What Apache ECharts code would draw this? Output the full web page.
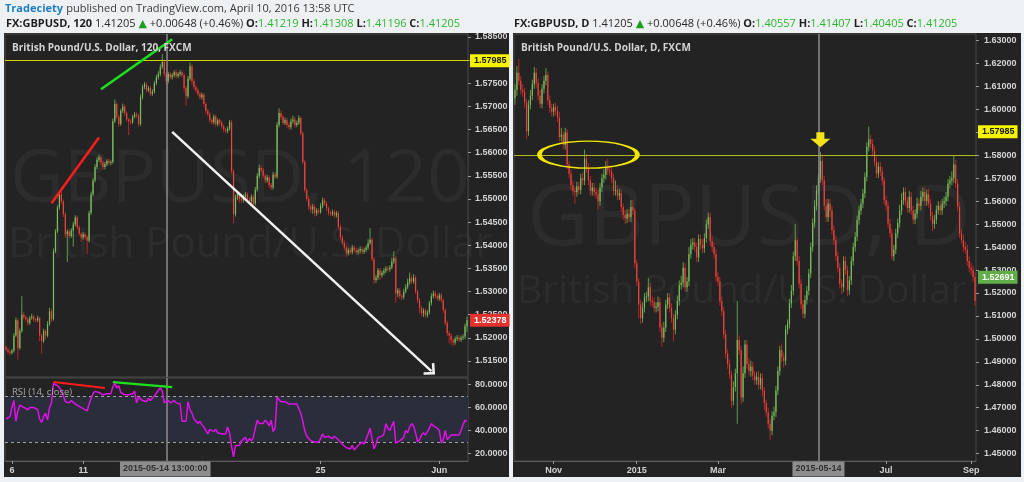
<!DOCTYPE html>
<html><head><meta charset="utf-8">
<script src="https://cdn.jsdelivr.net/npm/echarts@6.0.0/dist/echarts.min.js"></script>
<style>html,body{margin:0;padding:0;background:#eef1f4;}#c{width:1024px;height:482px;}</style>
</head><body><div id="c"></div>
<script>
// ---------------- DATA ----------------
const leftDays = ['2015-05-05','2015-05-06','2015-05-07','2015-05-08','2015-05-11','2015-05-12','2015-05-13','2015-05-14','2015-05-15','2015-05-18','2015-05-19','2015-05-20','2015-05-21','2015-05-22','2015-05-25','2015-05-26','2015-05-27','2015-05-28','2015-05-29','2015-06-01','2015-06-02'];
const leftTickDates = ['2015-05-06 01:00:00','2015-05-11 01:00:00','2015-05-18 01:00:00','2015-05-25 01:00:00','2015-06-01 01:00:00'];
const leftTickNames = ['6','11','18','25','Jun'];
const leftPriceTicks = [1.515,1.52,1.525,1.53,1.535,1.54,1.545,1.55,1.555,1.56,1.565,1.57,1.575,1.58,1.585];
const rsiTicks = [20,40,60,80];
const leftFirstOpen = 1.5180;
const leftCloses = [
1.5175,1.5170,1.5168,1.5172,1.5205,1.5238,1.5178,1.5215,1.5250,1.5245,
1.5240,1.5232,1.5243,1.5246,1.5240,1.5238,1.5243,1.5205,1.5193,1.5215,
1.5205,1.5230,1.5257,1.5240,1.5387,1.5430,1.5482,1.5510,1.5495,1.5467,
1.5424,1.5430,1.5420,1.5432,1.5445,1.5460,1.5439,1.5425,1.5417,1.5424,
1.5418,1.5410,1.5470,1.5510,1.5540,1.5569,1.5585,1.5590,1.5579,1.5569,
1.5575,1.5582,1.5578,1.5580,1.5668,1.5705,1.5677,1.5662,1.5690,1.5700,
1.5685,1.5672,1.5668,1.5666,1.5678,1.5683,1.5680,1.5662,1.5720,1.5742,
1.5748,1.5735,1.5740,1.5727,1.5732,1.5750,1.5763,1.5770,1.5785,1.5796,
1.5770,1.5755,1.5770,1.5763,1.5768,1.5774,1.5766,1.5770,1.5774,1.5768,
1.5740,1.5722,1.5760,1.5787,1.5755,1.5742,1.5735,1.5727,1.5720,1.5725,
1.5705,1.5690,1.5683,1.5670,1.5666,1.5678,1.5662,1.5670,1.5665,1.5657,
1.5650,1.5647,1.5652,1.5666,1.5560,1.5467,1.5504,1.5512,1.5500,1.5497,
1.5505,1.5510,1.5498,1.5495,1.5505,1.5490,1.5520,1.5550,1.5567,1.5562,
1.5550,1.5540,1.5547,1.5530,1.5525,1.5553,1.5548,1.5660,1.5686,1.5677,
1.5665,1.5670,1.5660,1.5655,1.5668,1.5672,1.5660,1.5665,1.5675,1.5642,
1.5580,1.5519,1.5500,1.5483,1.5478,1.5483,1.5470,1.5475,1.5472,1.5485,
1.5497,1.5490,1.5480,1.5470,1.5468,1.5472,1.5465,1.5470,1.5440,1.5417,
1.5405,1.5395,1.5383,1.5390,1.5385,1.5395,1.5390,1.5385,1.5388,1.5392,
1.5386,1.5390,1.5395,1.5405,1.5412,1.5370,1.5325,1.5330,1.5346,1.5335,
1.5340,1.5345,1.5350,1.5348,1.5352,1.5365,1.5372,1.5296,1.5303,1.5290,
1.5288,1.5300,1.5310,1.5320,1.5329,1.5322,1.5330,1.5300,1.5281,1.5265,
1.5253,1.5259,1.5249,1.5255,1.5275,1.5290,1.5296,1.5290,1.5285,1.5292,
1.5281,1.5260,1.5232,1.5210,1.5205,1.5195,1.5190,1.5198,1.5201,1.5196,
1.5200,1.5203,1.5225,1.5238];
// wick lengths in pips (0.0001)
const leftUpperWick = [
4,3,3,4,5,6,4,5,40,6, 4,5,4,6,4,3,5,3,4,5, 4,6,8,5,6,5,5,8,6,4, 5,4,4,5,6,5,4,4,3,5,
4,4,5,6,5,6,5,6,4,4, 5,4,5,4,6,10,4,4,5,6, 4,4,3,5,4,5,4,4,6,5, 5,4,4,4,5,5,5,6,6,17,
5,4,4,5,4,4,6,4,5,4, 4,4,6,8,4,5,4,4,4,5, 4,4,5,4,4,5,4,4,4,4, 4,4,5,5,4,5,6,5,4,5,
5,5,5,6,5,5,6,6,7,5, 5,5,5,4,5,6,5,6,10,5, 5,6,5,5,6,8,5,5,6,4, 4,4,5,6,5,6,5,5,5,6,
6,5,5,4,5,5,5,4,4,5, 5,6,5,5,5,6,5,5,5,6, 5,5,5,8,25,5,5,6,5,5, 5,6,5,5,5,8,15,5,5,5,
5,6,6,8,12,6,8,5,4,5, 4,5,5,5,5,6,6,5,5,5, 5,4,4,5,5,5,4,5,5,5, 5,5,6,8];
const leftLowerWick = [
4,5,6,4,4,3,25,4,4,5, 4,6,4,4,5,5,4,12,27,4, 8,4,4,6,3,4,4,5,5,6, 8,60,5,4,35,4,5,5,10,5,
5,30,4,4,4,4,5,5,6,5, 5,4,5,5,4,4,5,6,4,4, 5,5,30,5,4,4,5,6,4,5, 5,5,4,5,4,4,4,5,5,4,
6,8,5,5,5,5,6,5,5,5, 8,20,5,4,8,5,5,5,5,5, 6,6,5,5,5,5,6,5,6,5, 6,5,5,4,5,20,5,6,8,6,
5,5,6,6,5,6,4,4,5,5, 5,6,5,6,6,5,5,4,5,6, 5,5,6,5,5,5,6,5,5,5, 5,5,5,6,8,10,8,6,5,4,
5,5,6,6,5,5,6,5,5,5, 5,6,8,5,5,5,6,5,5,5, 5,5,5,5,4,5,8,6,5,10, 5,5,5,5,5,4,5,20,8,6,
6,5,4,5,5,6,5,5,6,12, 6,8,5,5,4,5,5,5,5,5, 5,6,5,6,17,10,8,5,5,5, 5,5,6,12];
const leftRsi = [
50,49,52,60,66,48,57,62,61,60, 59,58,60,59,60,59,58,50,47,52, 55,49,60,64,81,80,79,77,75,70,
65,66,64,66,65,63,62,61,60,59, 60,57,63,68,72,74,75,73,72,71, 71,72,71,72,78,81,77,79,73,72,
71,72,71,72,72,74,64,69,68,66, 67,65,68,66,68,70,71,75,77,74, 64,65,66,64,65,66,64,65,63,48,
49,48,65,58,55,50,49,46,48,45, 43,44,37,41,42,39,41,38,39,37, 38,37,43,38,26,17,27,28,27,31,
32,34,30,33,31,34,42,49,46,45, 46,49,47,44,49,39,42,69,67,65, 64,65,64,63,64,63,64,63,64,55,
48,40,35,33,31,32,30,31,30,33, 37,34,33,35,34,33,35,34,32,30, 28,27,25,26,24,27,23,25,27,26,
30,28,29,37,42,33,24,28,34,33, 35,37,46,42,40,44,48,29,30,31, 30,34,40,38,43,46,44,38,30,32,
36,38,36,39,42,46,44,45,42,40, 29,32,40,32,33,36,37,36,37,36, 40,45,49,48];

const rightStartDate = '2014-10-06';
const rightTickDates = ['2014-11-03','2015-01-01','2015-03-02','2015-05-01','2015-07-01','2015-09-01'];
const rightTickNames = ['Nov','2015','Mar','May','Jul','Sep'];
const rightPriceTicks = [1.45,1.46,1.47,1.48,1.49,1.50,1.51,1.52,1.53,1.54,1.55,1.56,1.57,1.58,1.59,1.60,1.61,1.62,1.63];
const rightFirstOpen = 1.6050;
const rightCloses = [
1.6085,1.6160,1.6125,1.6085,1.6075,1.6030,1.5905,1.6020,1.6060,1.6110,
1.6160,1.6115,1.6060,1.6025,1.6090,1.6125,1.6150,1.6040,1.6005,1.5990,
1.6010,1.5995,1.5965,1.5880,1.5890,1.5845,1.5900,1.5760,1.5720,1.5670,
1.5645,1.5640,1.5665,1.5650,1.5700,1.5690,1.5785,1.5745,1.5690,1.5645,
1.5660,1.5640,1.5630,1.5600,1.5660,1.5700,1.5715,1.5745,1.5735,1.5730,
1.5700,1.5645,1.5650,1.5625,1.5635,1.5575,1.5540,1.5525,1.5545,1.5530,
1.5575,1.5560,1.5330,1.5250,1.5150,1.5090,1.5135,1.5180,1.5185,1.5225,
1.5165,1.5160,1.5135,1.5140,1.5160,1.5050,1.5005,1.5050,1.5150,1.5180,
1.5135,1.5090,1.5040,1.5105,1.5165,1.5235,1.5245,1.5310,1.5225,1.5250,
1.5370,1.5410,1.5420,1.5400,1.5355,1.5435,1.5410,1.5395,1.5440,1.5500,
1.5530,1.5425,1.5400,1.5370,1.5270,1.5250,1.5165,1.5120,1.5020,1.4935,
1.4890,1.4845,1.4730,1.4790,1.4850,1.4995,1.4950,1.4745,1.4850,1.4975,
1.4890,1.4860,1.4880,1.4840,1.4820,1.4835,1.4800,1.4830,1.4775,1.4720,
1.4680,1.4630,1.4600,1.4665,1.4680,1.4775,1.4860,1.4950,1.4920,1.4905,
1.5040,1.5065,1.5155,1.5210,1.5360,1.5430,1.5340,1.5240,1.5150,1.5110,
1.5170,1.5210,1.5285,1.5400,1.5505,1.5580,1.5650,1.5700,1.5775,1.5690,
1.5580,1.5530,1.5590,1.5560,1.5475,1.5430,1.5360,1.5310,1.5240,1.5225,
1.5340,1.5300,1.5212,1.5255,1.5340,1.5400,1.5445,1.5518,1.5560,1.5590,
1.5634,1.5706,1.5837,1.5870,1.5850,1.5820,1.5772,1.5721,1.5750,1.5730,
1.5690,1.5605,1.5580,1.5503,1.5460,1.5360,1.5390,1.5460,1.5505,1.5560,
1.5605,1.5640,1.5600,1.5570,1.5620,1.5560,1.5520,1.5545,1.5590,1.5580,
1.5620,1.5640,1.5600,1.5630,1.5590,1.5535,1.5500,1.5520,1.5562,1.5580,
1.5560,1.5590,1.5600,1.5620,1.5677,1.5690,1.5700,1.5760,1.5677,1.5576,
1.5460,1.5430,1.5400,1.5390,1.5340,1.5310,1.5300,1.5270,1.5165];
const rightUpperWick = [
25,30,60,20,25,20,15,20,25,20, 25,20,20,25,20,20,30,15,20,20, 15,20,20,25,30,15,20,15,15,20, 20,15,20,20,20,25,40,20,20,20,
20,20,20,20,20,20,25,30,40,20, 20,20,40,20,20,15,15,20,20,20, 30,30,10,15,15,20,25,20,20,40, 20,20,20,20,25,20,20,25,20,20,
20,20,20,20,25,20,30,25,20,20, 30,25,20,20,20,20,20,25,20,20, 20,20,20,20,20,20,20,20,20,20, 20,20,15,25,20,170,20,20,30,20,
20,25,25,20,20,20,25,20,20,15, 15,20,20,20,25,20,20,20,30,20, 20,20,20,25,20,70,15,20,20,20, 20,20,20,20,20,25,20,20,40,30,
20,30,20,20,20,20,20,20,20,20, 20,20,20,20,20,20,20,20,20,20, 20,20,20,55,20,20,20,20,20,20, 20,15,20,20,20,20,20,20,20,25,
30,20,20,20,25,20,20,20,25,20, 25,20,20,20,25,20,20,20,20,20, 20,20,20,20,20,20,30,40,20,20, 20,20,25,25,20,20,20,20,20];
const rightLowerWick = [
30,25,20,20,20,25,35,20,20,20, 20,20,20,20,20,20,20,20,20,20, 20,20,20,20,20,20,20,20,20,20, 20,50,20,20,20,20,20,20,20,20,
20,20,20,35,20,20,20,20,20,20, 20,20,20,20,20,20,20,25,20,20, 20,20,20,20,60,25,20,20,20,20, 20,20,20,20,20,20,40,20,20,20,
20,20,50,20,20,20,20,20,20,20, 20,20,20,20,20,20,20,20,20,20, 20,20,20,20,20,20,20,20,20,20, 20,20,30,20,20,220,20,30,20,20,
20,20,25,20,20,20,20,20,25,30, 20,20,40,20,20,20,20,20,20,30, 20,20,20,20,20,20,20,20,20,20, 20,20,20,20,20,20,20,20,20,20,
20,20,20,30,20,20,20,20,20,30, 20,20,25,20,20,20,20,20,20,20, 20,20,20,20,20,20,20,20,20,20, 20,20,20,20,20,15,20,20,20,20,
20,20,20,20,20,20,20,20,20,20, 20,20,20,20,20,20,30,20,20,20, 20,20,20,20,20,20,20,20,20,20, 20,15,20,20,20,20,20,20,20];

// ---------------- BUILD ----------------
const leftCats = [];
leftDays.forEach((d, k) => {
  let hours = [];
  for (let h = 1; h < 24; h += 2) hours.push(h);
  if (k === 0) hours = [19, 21, 23];
  if (k === leftDays.length - 1) hours = [1, 3, 5];
  hours.forEach(h => leftCats.push(d + ' ' + String(h).padStart(2, '0') + ':00:00'));
});
const rightCats = [];
{
  let t = Date.parse(rightStartDate + 'T00:00:00Z');
  while (rightCats.length < rightCloses.length) {
    const wd = new Date(t).getUTCDay();
    if (wd !== 0 && wd !== 6) rightCats.push(new Date(t).toISOString().slice(0, 10));
    t += 86400000;
  }
}
// rows: [index, open, close, low, high]
function buildCandles(firstOpen, closes, upW, dnW) {
  return closes.map((c, i) => {
    const o = i === 0 ? firstOpen : closes[i - 1];
    const hi = Math.max(o, c) + (upW[i] || 0) / 10000;
    const lo = Math.min(o, c) - (dnW[i] || 0) / 10000;
    return [i, o, c, lo, hi];
  });
}
const leftCandles = buildCandles(leftFirstOpen, leftCloses, leftUpperWick, leftLowerWick);
const rightCandles = buildCandles(rightFirstOpen, rightCloses, rightUpperWick, rightLowerWick);

const UP = '#7cbc5e', DOWN = '#e44840', UPW = '#5e9c48', DNW = '#b82626';
function renderCandle(params, api) {
  const i = api.value(0), o = api.value(1), c = api.value(2), l = api.value(3), h = api.value(4);
  const pO = api.coord([i, o]), pC = api.coord([i, c]), pL = api.coord([i, l]), pH = api.coord([i, h]);
  const band = api.size([1, 0])[0];
  const bw = Math.max(1, band * 0.62);
  const up = c >= o;
  const x = pO[0];
  const top = Math.min(pO[1], pC[1]);
  const hgt = Math.max(1, Math.abs(pO[1] - pC[1]));
  return { type: 'group', children: [
    { type: 'line', shape: { x1: x, y1: pH[1], x2: x, y2: pL[1] }, style: { stroke: up ? UPW : DNW, lineWidth: 1 } },
    { type: 'rect', shape: { x: x - bw / 2, y: top, width: bw, height: hgt }, style: { fill: up ? UP : DOWN } }
  ] };
}

const AXF = '"Liberation Sans", Arial, sans-serif';
const lblStyle = { color: '#d2d2d2', fontSize: 9, fontWeight: 'bold', fontFamily: AXF };
const leftTickSet = new Set(leftTickDates);
const rightTickSet = new Set(rightTickDates);
const chevron = 'path://M0,10 L10,0 L20,10 L17.5,12 L10,4.5 L2.5,12 Z';
const downArrow = 'path://M6,0 L14,0 L14,7 L20,7 L10,16 L0,7 L6,7 Z';

const chart = echarts.init(document.getElementById('c'), null, { renderer: 'canvas' });
const gridBase = { show: true, borderColor: '#4a4a4a', borderWidth: 1, backgroundColor: 'transparent', containLabel: false, outerBoundsMode: 'none' };

const option = {
  animation: false,
  backgroundColor: '#eef1f4',
  grid: [
    Object.assign({ left: 5, top: 34, width: 463, height: 343 }, gridBase),
    Object.assign({ left: 5, top: 378, width: 463, height: 83 }, gridBase),
    Object.assign({ left: 514, top: 34, width: 462, height: 427 }, gridBase)
  ],
  xAxis: [
    { type: 'category', gridIndex: 0, data: leftCats, boundaryGap: true,
      axisLine: { show: false }, axisTick: { show: false }, axisLabel: { show: false }, splitLine: { show: false } },
    { type: 'category', gridIndex: 1, data: leftCats, boundaryGap: true,
      axisLine: { show: true, lineStyle: { color: '#5a5a5a' } },
      axisTick: { show: true, length: 3, alignWithLabel: true, lineStyle: { color: '#9a9a9a' }, interval: (i, v) => leftTickSet.has(v) },
      axisLabel: Object.assign({ margin: 5, interval: (i, v) => leftTickSet.has(v),
        formatter: v => { const k = leftTickDates.indexOf(v); return k >= 0 ? leftTickNames[k] : ''; } }, lblStyle),
      splitLine: { show: false } },
    { type: 'category', gridIndex: 2, data: rightCats, boundaryGap: true,
      axisLine: { show: true, lineStyle: { color: '#5a5a5a' } },
      axisTick: { show: true, length: 3, alignWithLabel: true, lineStyle: { color: '#9a9a9a' }, interval: (i, v) => rightTickSet.has(v) },
      axisLabel: Object.assign({ margin: 5, interval: (i, v) => rightTickSet.has(v),
        formatter: v => { const k = rightTickDates.indexOf(v); return k >= 0 ? rightTickNames[k] : ''; } }, lblStyle),
      splitLine: { show: false } }
  ],
  yAxis: [
    { type: 'value', gridIndex: 0, position: 'right', min: 1.51154, max: 1.58565, scale: true,
      axisLine: { show: false }, splitLine: { show: false },
      axisTick: { show: true, length: 3, lineStyle: { color: '#9a9a9a' }, customValues: leftPriceTicks },
      axisLabel: Object.assign({ margin: 7, customValues: leftPriceTicks, formatter: v => v.toFixed(5) }, lblStyle) },
    { type: 'value', gridIndex: 1, position: 'right', min: 13.5, max: 85.6,
      axisLine: { show: false }, splitLine: { show: false },
      axisTick: { show: true, length: 3, lineStyle: { color: '#9a9a9a' }, customValues: rsiTicks },
      axisLabel: Object.assign({ margin: 7, customValues: rsiTicks, formatter: v => v.toFixed(4) }, lblStyle) },
    { type: 'value', gridIndex: 2, position: 'right', min: 1.44677, max: 1.6329, scale: true,
      axisLine: { show: false }, splitLine: { show: false },
      axisTick: { show: true, length: 3, lineStyle: { color: '#9a9a9a' }, customValues: rightPriceTicks },
      axisLabel: Object.assign({ margin: 8, customValues: rightPriceTicks, formatter: v => v.toFixed(5) }, lblStyle) }
  ],
  series: [
    { type: 'custom', xAxisIndex: 0, yAxisIndex: 0, data: leftCandles, renderItem: renderCandle, clip: true,
      encode: { x: 0, y: [1, 2, 3, 4] },
      markLine: { silent: true, symbol: ['none', 'none'], label: { show: false }, animation: false,
        data: [
          { yAxis: 1.57985, lineStyle: { color: '#d4d400', width: 1, type: 'solid' } },
          { xAxis: leftCats[81], lineStyle: { color: '#8c8c8c', width: 1.5, type: 'solid' } },
          [{ coord: [leftCats[48], 1.5737], lineStyle: { color: '#1fe01f', width: 2.5, type: 'solid' } }, { coord: [leftCats[84], 1.5845] }],
          [{ coord: [leftCats[23], 1.5491], lineStyle: { color: '#ff1c1c', width: 2.5, type: 'solid' } }, { coord: [leftCats[47], 1.5633] }],
          [{ coord: [leftCats[84], 1.5645], lineStyle: { color: '#f2f2f2', width: 2.5, type: 'solid' } },
           { coord: [leftCats[215], 1.5128], symbol: chevron, symbolSize: [16, 10] }]
        ] } },
    { type: 'line', xAxisIndex: 1, yAxisIndex: 1, data: leftRsi, symbol: 'none',
      lineStyle: { color: '#e010e8', width: 1.5 }, z: 5,
      markArea: { silent: true, itemStyle: { color: '#2a2e3a' }, data: [[{ yAxis: 30 }, { yAxis: 70 }]] },
      markLine: { silent: true, symbol: ['none', 'none'], label: { show: false }, animation: false,
        data: [
          { yAxis: 70, lineStyle: { color: '#a0a0a0', width: 1, type: [3, 3] } },
          { yAxis: 30, lineStyle: { color: '#a0a0a0', width: 1, type: [3, 3] } },
          { xAxis: leftCats[81], lineStyle: { color: '#8c8c8c', width: 1.5, type: 'solid' } },
          [{ coord: [leftCats[24], 82.1], lineStyle: { color: '#ff1c1c', width: 2.2, type: 'solid' } }, { coord: [leftCats[50], 76.9] }],
          [{ coord: [leftCats[54], 82.1], lineStyle: { color: '#1fe01f', width: 2.2, type: 'solid' } }, { coord: [leftCats[84], 77.7] }]
        ] } },
    { type: 'custom', xAxisIndex: 2, yAxisIndex: 2, data: rightCandles, renderItem: renderCandle, clip: true,
      encode: { x: 0, y: [1, 2, 3, 4] },
      markLine: { silent: true, symbol: ['none', 'none'], label: { show: false }, animation: false,
        data: [
          { yAxis: 1.58, lineStyle: { color: '#b4b41e', width: 1.2, type: 'solid' } },
          { xAxis: rightCats[157], lineStyle: { color: '#8c8c8c', width: 1.5, type: 'solid' } }
        ] },
      markPoint: { silent: true, label: { show: false }, animation: false,
        data: [
          { coord: [rightCats[38], 1.5803], symbol: 'circle', symbolSize: [98, 27],
            itemStyle: { color: 'rgba(0,0,0,0)', borderColor: '#f2e600', borderWidth: 2.5 } },
          { coord: [rightCats[158], 1.5868], symbol: downArrow, symbolSize: [20, 15], symbolKeepAspect: false,
            itemStyle: { color: '#f2e41a' } }
        ] } }
  ]
};
chart.setOption(option);

// ---------------- ANNOTATION GRAPHICS ----------------
const yPix = (idx, v) => chart.convertToPixel({ yAxisIndex: idx }, v);
const xPix = (idx, v) => chart.convertToPixel({ xAxisIndex: idx }, v);
function tag(x, y, text, bg, fg) {
  return { type: 'text', x: x, y: y, z: 100,
    style: { text: text, fill: fg, backgroundColor: bg, padding: [2, 3, 1, 4],
      font: 'bold 9px ' + AXF, verticalAlign: 'middle', align: 'left', lineHeight: 10 } };
}
function crossLabel(x, y, text) {
  return { type: 'text', x: x, y: y, z: 100,
    style: { text: text, fill: '#303030', backgroundColor: '#8e8e8e', padding: [3, 3, 2, 3],
      font: 'bold 9px ' + AXF, verticalAlign: 'middle', align: 'center', lineHeight: 10 } };
}
const wm = 'rgba(255,255,255,0.045)';
const OS = '"Open Sans", "Noto Sans", sans-serif';
const graphics = [
  { type: 'rect', z: -10, shape: { x: 4, y: 33, width: 505, height: 444 }, style: { fill: '#232323' } },
  { type: 'rect', z: -10, shape: { x: 513, y: 33, width: 508, height: 444 }, style: { fill: '#232323' } },
  { type: 'text', z: -9, x: 10, y: 181, style: { text: 'GBPUSD, 120', font: '74px ' + OS, fill: wm, verticalAlign: 'middle' } },
  { type: 'text', z: -9, x: 8, y: 245, style: { text: 'British Pound/U.S. Dollar', font: '42px ' + OS, fill: wm, verticalAlign: 'middle' } },
  { type: 'text', z: -9, x: 527, y: 221, style: { text: 'GBPUSD, D', font: '85px ' + OS, fill: wm, verticalAlign: 'middle' } },
  { type: 'text', z: -9, x: 517, y: 292, style: { text: 'British Pound/U.S. Dollar', font: '39px ' + OS, fill: wm, verticalAlign: 'middle' } },
  { type: 'text', z: 50, x: 12, y: 48, style: { text: 'British Pound/U.S. Dollar, 120, FXCM', font: 'bold 10px ' + OS, fill: '#d4d4d4', verticalAlign: 'middle' } },
  { type: 'text', z: 50, x: 521, y: 48, style: { text: 'British Pound/U.S. Dollar, D, FXCM', font: 'bold 10px ' + OS, fill: '#d4d4d4', verticalAlign: 'middle' } },
  { type: 'text', z: 50, x: 12, y: 392, style: { text: 'RSI (14, close)', font: '9.5px ' + OS, fill: '#a8a8a8', verticalAlign: 'middle' } },
  { type: 'text', z: 50, x: 5, y: 9, style: {
      text: '{t|Tradeciety} {p|published on TradingView.com, April 10, 2016 13:58 UTC}', verticalAlign: 'middle',
      rich: { t: { font: 'bold 11px ' + OS, fill: '#1f7fc4' }, p: { font: '11px ' + OS, fill: '#3a3a3a' } } } },
  { type: 'text', z: 50, x: 6, y: 24, style: {
      text: '{b|FX:GBPUSD, 120} {n|1.41205} {u|▲} {n|+0.00648 (+0.46%)} {b|O:}{g|1.41219} {b|H:}{g|1.41308} {b|L:}{g|1.41196} {b|C:}{g|1.41205}',
      verticalAlign: 'middle', font: '11px ' + OS,
      rich: { b: { font: 'bold 11px ' + OS, fill: '#1e1e1e' }, n: { font: '11px ' + OS, fill: '#2a2a2a' },
              u: { font: '11px "DejaVu Sans"', fill: '#1e9e1e' }, g: { font: '11px ' + OS, fill: '#2db52d' } } } },
  { type: 'text', z: 50, x: 514, y: 24, style: {
      text: '{b|FX:GBPUSD, D} {n|1.41205} {u|▲} {n|+0.00648 (+0.46%)} {b|O:}{g|1.40557} {b|H:}{g|1.41407} {b|L:}{g|1.40405} {b|C:}{g|1.41205}',
      verticalAlign: 'middle', font: '11px ' + OS,
      rich: { b: { font: 'bold 11px ' + OS, fill: '#1e1e1e' }, n: { font: '11px ' + OS, fill: '#2a2a2a' },
              u: { font: '11px "DejaVu Sans"', fill: '#1e9e1e' }, g: { font: '11px ' + OS, fill: '#2db52d' } } } },
  tag(470, yPix(0, 1.57985), '1.57985', '#f4f400', '#1a1a1a'),
  tag(470, yPix(0, 1.52378), '1.52378', '#e3312d', '#ffffff'),
  tag(978, yPix(2, 1.5903), '1.57985', '#f4f400', '#1a1a1a'),
  tag(978, yPix(2, 1.52691), '1.52691', '#5fae48', '#ffffff'),
  crossLabel(xPix(1, leftCats[81]) - 1, 469, '2015-05-14 13:00:00'),
  crossLabel(xPix(2, rightCats[157]), 469, '2015-05-14')
];
chart.setOption({ graphic: graphics });
</script>
</body></html>
